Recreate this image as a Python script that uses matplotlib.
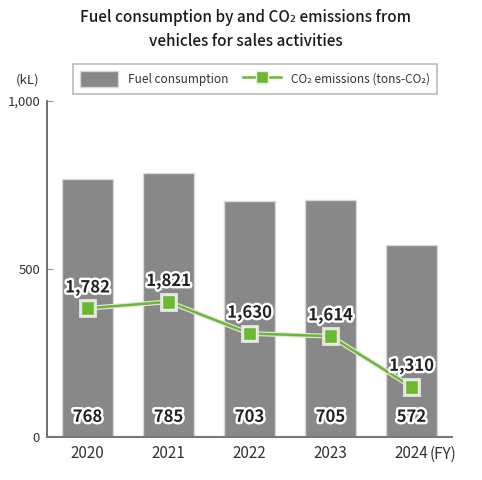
import matplotlib
matplotlib.use("Agg")
import matplotlib.pyplot as plt
import matplotlib.patheffects as pe
import matplotlib.transforms as mtransforms
from matplotlib.lines import Line2D
from matplotlib.patches import Patch

plt.rcParams['font.family'] = ['Noto Sans CJK JP', 'DejaVu Sans']

years = ["2020", "2021", "2022", "2023", "2024"]
fuel = [768, 785, 703, 705, 572]
co2 = [1782, 1821, 1630, 1614, 1310]
fuel_labels = ["768", "785", "703", "705", "572"]
co2_labels = ["1,782", "1,821", "1,630", "1,614", "1,310"]
tick_labels = ["2020", "2021", "2022", "2023", "2024"]
fy_suffix = "(FY)"

BAR = "#888888"
GREEN = "#6ab930"
TXT = "#333333"

fig = plt.figure(figsize=(4.82, 4.80), dpi=100)
ax = fig.add_axes([47/482, 1-437/480, (452-47)/482, (437-101)/480])
x = list(range(len(years)))
ax.bar(x, fuel, width=0.64, color=BAR, edgecolor="#d8d8d8", linewidth=1, zorder=2)
ax.set_xlim(-0.5, 4.5)
ax.set_ylim(0, 1000)
ax.set_yticks([0, 500, 1000])
ax.set_yticklabels(["0", "500", "1,000"])
ax.set_xticks(x)
ax.set_xticklabels(tick_labels)
ax.tick_params(axis='y', direction='in', length=4, color="#999999", labelsize=9.5, labelcolor=TXT, pad=5)
ax.tick_params(axis='x', length=0, labelsize=11, labelcolor=TXT, pad=6)
for s in ['top', 'right']:
    ax.spines[s].set_visible(False)
ax.spines['left'].set_color("#555555")
ax.spines['bottom'].set_color("#777777")
ax.spines['left'].set_linewidth(1.2)
ax.spines['bottom'].set_linewidth(1.5)

# (FY) suffix right after the last tick label
fig.canvas.draw()
last = ax.get_xticklabels()[-1]
bb = last.get_window_extent()
fig.text((bb.x1 + 1) / fig.bbox.width, (bb.y0 + bb.y1) / 2 / fig.bbox.height, fy_suffix,
         ha='left', va='center', fontsize=11, color=TXT)

stroke = [pe.withStroke(linewidth=3.5, foreground="white")]
for xi, lab in zip(x, fuel_labels):
    ax.text(xi, 60, lab, ha='center', va='center', fontsize=12, fontweight='bold',
            color="#222222", path_effects=stroke, zorder=5)

ax2 = ax.twinx()
ax2.set_ylim(1007, 3030)
ax2.axis('off')
ax2.plot(x, co2, color=GREEN, linewidth=1.8, marker='s', markersize=10,
         markerfacecolor=GREEN, markeredgecolor="#e8f0e0", markeredgewidth=1,
         path_effects=[pe.Stroke(linewidth=3.5, foreground="#e4e4e4"), pe.Normal()], zorder=4)
for xi, v, lab in zip(x, co2, co2_labels):
    ax2.annotate(lab, (xi, v), xytext=(0, 15), textcoords='offset points', ha='center', va='center',
                 fontsize=12, fontweight='bold', color="#222222", path_effects=stroke, zorder=6)

fig.text(246/482, 1-18/480, "Fuel consumption by and CO\u2082 emissions from", ha='center', va='center',
         fontsize=11, fontweight='medium', color="#1a1a1a")
fig.text(246/482, 1-42/480, "vehicles for sales activities", ha='center', va='center',
         fontsize=11, fontweight='medium', color="#1a1a1a")
fig.text(28/482, 1-80/480, "(kL)", ha='center', va='center', fontsize=9.5, color=TXT)

handles = [Patch(facecolor=BAR, edgecolor="#d8d8d8"),
           Line2D([0], [0], color=GREEN, linewidth=1.8, marker='s', markersize=9,
                  markerfacecolor=GREEN, markeredgecolor="#e8f0e0")]
leg = fig.legend(handles, ["Fuel consumption", "CO\u2082 emissions (tons-CO\u2082)"],
                 loc='center', bbox_to_anchor=(255/482, 1-79/480), ncol=2, frameon=True,
                 fancybox=False, edgecolor="#aaaaaa", fontsize=8.5, handlelength=3.2,
                 handleheight=1.6, columnspacing=1.3, borderpad=0.6, handletextpad=0.8)
leg.get_frame().set_linewidth(1.2)
for t in leg.get_texts():
    t.set_color(TXT)

fig.savefig("out.png", dpi=100)
